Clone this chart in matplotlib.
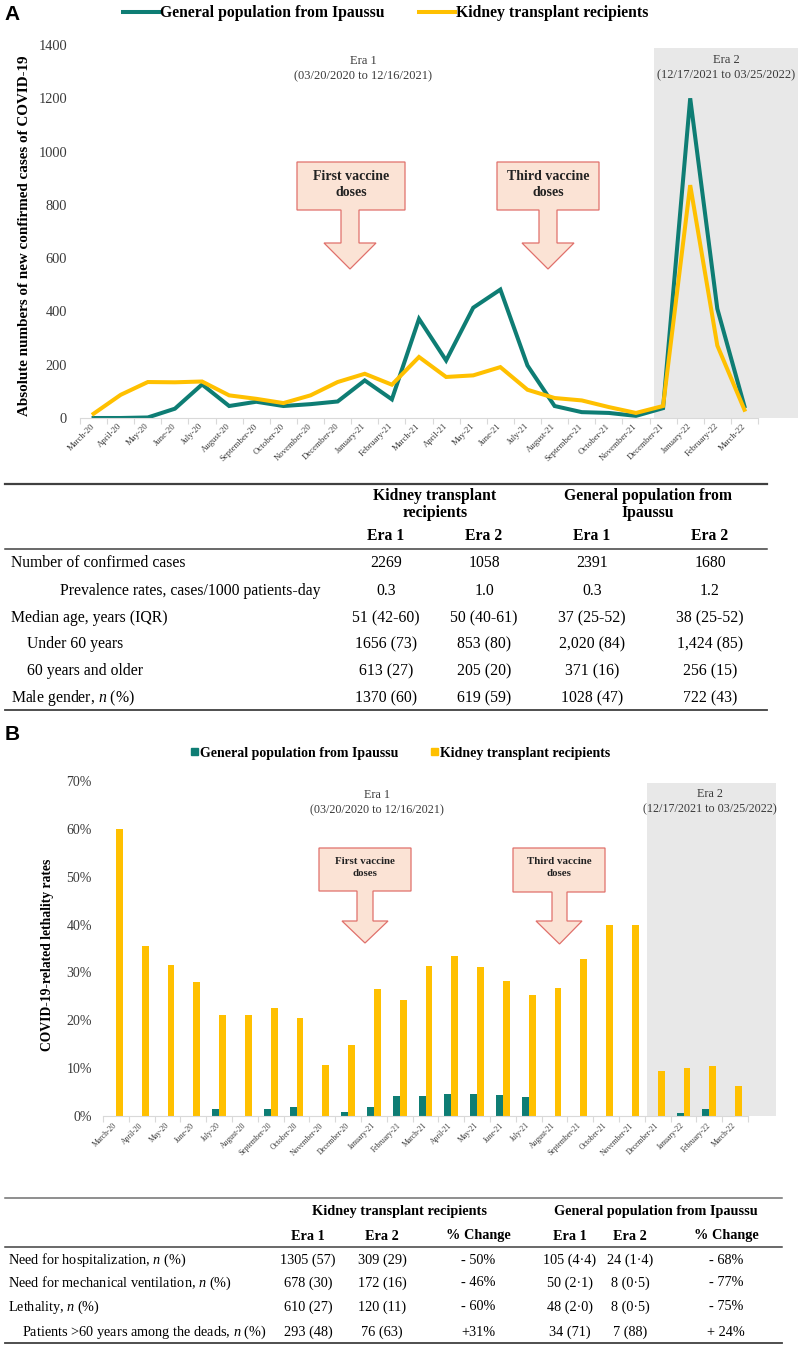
import numpy as np
import matplotlib.pyplot as plt
from matplotlib.lines import Line2D
from matplotlib.patches import Patch, Polygon
from matplotlib.ticker import FuncFormatter

plt.rcParams['font.family'] = ['Liberation Serif', 'DejaVu Serif']
plt.rcParams['mathtext.fontset'] = 'custom'
plt.rcParams['mathtext.it'] = 'Liberation Serif:italic'
plt.rcParams['mathtext.rm'] = 'Liberation Serif'

W, H = 800, 1346
TEAL = '#0e7d74'
GOLD = '#ffc000'
SHADE = '#e8e8e8'
AXIS = '#d9d9d9'
ARROW_FACE = '#fbe3d5'
ARROW_EDGE = '#e0706b'
TXT = '#3a3a3a'

# --- data ---
months = ['March-20', 'April-20', 'May-20', 'June-20', 'July-20', 'August-20',
          'September-20', 'October-20', 'November-20', 'December-20', 'January-21',
          'February-21', 'March-21', 'April-21', 'May-21', 'June-21', 'July-21',
          'August-21', 'September-21', 'October-21', 'November-21', 'December-21',
          'January-22', 'February-22', 'March-22']

# panel A: absolute numbers of new confirmed cases
cases_general = [0, 0, 2, 35, 126, 45, 61, 45, 52, 62, 141, 70, 372, 216, 414,
                 482, 197, 45, 22, 19, 8, 37, 1200, 410, 44]
cases_ktr = [16, 87, 135, 134, 137, 85, 72, 56, 85, 135, 166, 125, 229, 154, 160,
             191, 106, 75, 66, 41, 19, 45, 874, 272, 31]

# panel B: lethality rates (%)
leth_general = [0, 0, 0, 0, 1.5, 0, 1.5, 1.95, 0, 0.8, 1.9, 4.2, 4.1, 4.7, 4.5,
                4.4, 4.0, 0, 0, 0, 0, 0, 0.55, 1.5, 0]
leth_ktr = [60, 35.5, 31.5, 28.0, 21.1, 21.2, 22.6, 20.4, 10.7, 14.8, 26.6, 24.3,
            31.4, 33.5, 31.1, 28.2, 25.3, 26.8, 32.9, 40, 40, 9.5, 10.0, 10.4, 6.3]

lab_general = 'General population from Ipaussu'
lab_ktr = 'Kidney transplant recipients'

# table A
tabA_groups = ['Kidney transplant', 'recipients', 'General population from', 'Ipaussu']
tabA_cols = ['Era 1', 'Era 2', 'Era 1', 'Era 2']
tabA_rows = ['Number of confirmed cases',
             'Prevalence rates, cases/1000 patients-day',
             'Median age, years (IQR)',
             'Under 60 years',
             '60 years and older',
             'Male gender, $n$ (%)']
tabA_vals = [['2269', '1058', '2391', '1680'],
             ['0.3', '1.0', '0.3', '1.2'],
             ['51 (42-60)', '50 (40-61)', '37 (25-52)', '38 (25-52)'],
             ['1656 (73)', '853 (80)', '2,020 (84)', '1,424 (85)'],
             ['613 (27)', '205 (20)', '371 (16)', '256 (15)'],
             ['1370 (60)', '619 (59)', '1028 (47)', '722 (43)']]

# table B
tabB_cols = ['Era 1', 'Era 2', '% Change', 'Era 1', 'Era 2', '% Change']
tabB_rows = ['Need for hospitalization, $n$ (%)',
             'Need for mechanical ventilation, $n$ (%)',
             'Lethality, $n$ (%)',
             'Patients >60 years among the deads, $n$ (%)']
tabB_vals = [['1305 (57)', '309 (29)', '- 50%', '105 (4·4)', '24 (1·4)', '- 68%'],
             ['678 (30)', '172 (16)', '- 46%', '50 (2·1)', '8 (0·5)', '- 77%'],
             ['610 (27)', '120 (11)', '- 60%', '48 (2·0)', '8 (0·5)', '- 75%'],
             ['293 (48)', '76 (63)', '+31%', '34 (71)', '7 (88)', '+ 24%']]

fig = plt.figure(figsize=(W / 100, H / 100), dpi=100)


def fx(x):
    return x / W


def fy(y):
    return 1 - y / H


def px_axes(left, top, right, bottom):
    return fig.add_axes([fx(left), fy(bottom), (right - left) / W, (bottom - top) / H])


def ftext(x, y, s, **kw):
    kw.setdefault('ha', 'center')
    kw.setdefault('va', 'center')
    fig.text(fx(x), fy(y), s, **kw)


def hline(y, x0, x1, lw, color='#404040'):
    fig.add_artist(Line2D([fx(x0), fx(x1)], [fy(y), fy(y)], lw=lw, color=color,
                          transform=fig.transFigure))


def callout(x0, x1, y0, y1, s0, s1, hy, h0, h1, tip, lines, size, dy):
    cx = (s0 + s1) / 2
    pts = [(x0, y0), (x1, y0), (x1, y1), (s1, y1), (s1, hy), (h1, hy), (cx, tip),
           (h0, hy), (s0, hy), (s0, y1), (x0, y1)]
    fig.add_artist(Polygon([(fx(a), fy(b)) for a, b in pts], closed=True,
                           transform=fig.transFigure, facecolor=ARROW_FACE,
                           edgecolor=ARROW_EDGE, lw=0.9))
    bx = (x0 + x1) / 2
    for i, t in enumerate(lines):
        ftext(bx, y0 + dy[i], t, fontsize=size, fontweight='bold', color='#222222')


def style_axes(ax, xmax, xlabsize, xpad, ylabsize, ypad):
    for s in ['top', 'right', 'left']:
        ax.spines[s].set_visible(False)
    ax.spines['bottom'].set_color(AXIS)
    ax.spines['bottom'].set_bounds(-0.5, len(months) - 0.5)
    ax.set_xlim(-0.5, xmax)
    ax.set_xticks(np.arange(len(months)))
    ax.set_xticklabels(months, rotation=45, ha='right', va='center',
                       rotation_mode='anchor')
    ax.set_xticks(np.arange(-0.5, len(months)), minor=True)
    ax.tick_params(axis='x', which='major', length=0, labelsize=xlabsize, pad=xpad,
                   labelcolor=TXT)
    ax.tick_params(axis='x', which='minor', length=4, color=AXIS, width=0.8)
    ax.tick_params(axis='y', length=0, labelsize=ylabsize, pad=ypad, labelcolor=TXT)
    ax.set_facecolor('none')


x = np.arange(len(months))

# ---------------- panel A ----------------
axA = px_axes(80, 45, 798, 418)
xmaxA = 24.5 + 40 / 27.12
axA.axvspan(20.66, xmaxA, ymax=1390 / 1400, color=SHADE, lw=0, zorder=0)
axA.plot(x, cases_general, color=TEAL, lw=2.9, solid_joinstyle='miter', zorder=2)
axA.plot(x, cases_ktr, color=GOLD, lw=2.9, solid_joinstyle='miter', zorder=3)
axA.set_ylim(0, 1400)
axA.set_yticks(np.arange(0, 1401, 200))
style_axes(axA, xmaxA, 6.3, 5, 10.4, 9.4)

ftext(25, 236, 'Absolute numbers of new confirmed cases of COVID-19', rotation=90,
      fontsize=10.9, fontweight='bold')
ftext(12, 14, 'A', family='Liberation Sans', fontweight='bold', fontsize=15)
ftext(363, 61, 'Era 1', fontsize=9.0, color=TXT)
ftext(363, 76, '(03/20/2020 to 12/16/2021)', fontsize=9.0, color=TXT)
ftext(726, 60, 'Era 2', fontsize=9.0, color=TXT)
ftext(726, 75, '(12/17/2021 to 03/25/2022)', fontsize=9.0, color=TXT)

fig.legend(handles=[Line2D([], [], color=TEAL, lw=2.9, label=lab_general),
                    Line2D([], [], color=GOLD, lw=2.9, label=lab_ktr)],
           loc='center', bbox_to_anchor=(fx(386), fy(13)), ncol=2, frameon=False,
           prop={'weight': 'bold', 'size': 11.3}, handlelength=2.25,
           handletextpad=0.1, columnspacing=2.2, borderpad=0)

callout(297, 405, 162, 210, 341, 359, 243, 324, 376, 269,
        ['First vaccine', 'doses'], 10, [14, 30])
callout(497, 599, 162, 210, 539, 557, 243, 522, 574, 269,
        ['Third vaccine', 'doses'], 10, [14, 30])

# ---------------- table A ----------------
hline(484, 5, 767, 1.6)
hline(549, 5, 767, 1.1)
hline(710, 5, 767, 1.3)
ftext(435, 496, tabA_groups[0], fontsize=11.3, fontweight='bold')
ftext(435, 513, tabA_groups[1], fontsize=11.3, fontweight='bold')
ftext(648, 496, tabA_groups[2], fontsize=11.3, fontweight='bold')
ftext(648, 513, tabA_groups[3], fontsize=11.3, fontweight='bold')
colsA = [386, 484, 592, 710]
for cx, c in zip(colsA, tabA_cols):
    ftext(cx, 536, c, fontsize=11.3, fontweight='bold')
rowsA = [563, 591, 618, 644, 671, 698]
indA = [11, 60, 11, 27, 27, 11]
for ry, lx, lab, vals in zip(rowsA, indA, tabA_rows, tabA_vals):
    ftext(lx, ry, lab, ha='left', fontsize=11.3)
    for cx, v in zip(colsA, vals):
        ftext(cx, ry, v, fontsize=11.3)

# ---------------- panel B ----------------
axB = px_axes(103, 781, 776, 1116)
xmaxB = 24.5 + 28 / 25.8
bw = 0.27
axB.axvspan(20.59, xmaxB, ymax=0.994, color=SHADE, lw=0, zorder=0)
axB.bar(x - bw / 2, leth_general, bw, color=TEAL, zorder=2)
axB.bar(x + bw / 2, leth_ktr, bw, color=GOLD, zorder=2)
axB.set_ylim(0, 70)
axB.set_yticks(np.arange(0, 71, 10))
axB.yaxis.set_major_formatter(FuncFormatter(lambda v, p: f'{v:.0f}%'))
style_axes(axB, xmaxB, 5.5, 6, 10.0, 8)

ftext(48, 955, 'COVID-19-related lethality rates', rotation=90, fontsize=9.8,
      fontweight='bold')
ftext(12, 735, 'B', family='Liberation Sans', fontweight='bold', fontsize=15)
ftext(377, 795, 'Era 1', fontsize=8.7, color=TXT)
ftext(377, 810, '(03/20/2020 to 12/16/2021)', fontsize=8.7, color=TXT)
ftext(710, 794, 'Era 2', fontsize=8.7, color=TXT)
ftext(710, 809, '(12/17/2021 to 03/25/2022)', fontsize=8.7, color=TXT)

fig.legend(handles=[Patch(color=TEAL, label=lab_general),
                    Patch(color=GOLD, label=lab_ktr)],
           loc='center', bbox_to_anchor=(fx(401), fy(753)), ncol=2, frameon=False,
           prop={'weight': 'bold', 'size': 10}, handlelength=0.45,
           handleheight=0.45, handletextpad=0.2, columnspacing=2.35, borderpad=0)

callout(319, 411, 848, 891, 357, 373, 921, 342, 388, 943,
        ['First vaccine', 'doses'], 7.8, [13, 26])
callout(513, 605, 848, 892, 552, 567, 921, 536, 582, 944,
        ['Third vaccine', 'doses'], 7.8, [13, 26])

# ---------------- table B ----------------
hline(1198, 5, 782, 1.1, '#707070')
hline(1247, 5, 782, 1.1)
hline(1343, 5, 782, 1.3)
ftext(400, 1211, 'Kidney transplant recipients', fontsize=10.3, fontweight='bold')
ftext(656, 1211, 'General population from Ipaussu', fontsize=10.3, fontweight='bold')
colsB = [308, 382, 478, 570, 630, 726]
for cx, c in zip(colsB, tabB_cols):
    ftext(cx, 1236, c, fontsize=10.3, fontweight='bold')
rowsB = [1260, 1283, 1307, 1332]
indB = [8, 8, 8, 22]
for ry, lx, lab, vals in zip(rowsB, indB, tabB_rows, tabB_vals):
    ftext(lx, ry, lab, ha='left', fontsize=10.3)
    for cx, v in zip(colsB, vals):
        ftext(cx, ry, v, fontsize=10.3)

fig.savefig('out.png', dpi=100)
